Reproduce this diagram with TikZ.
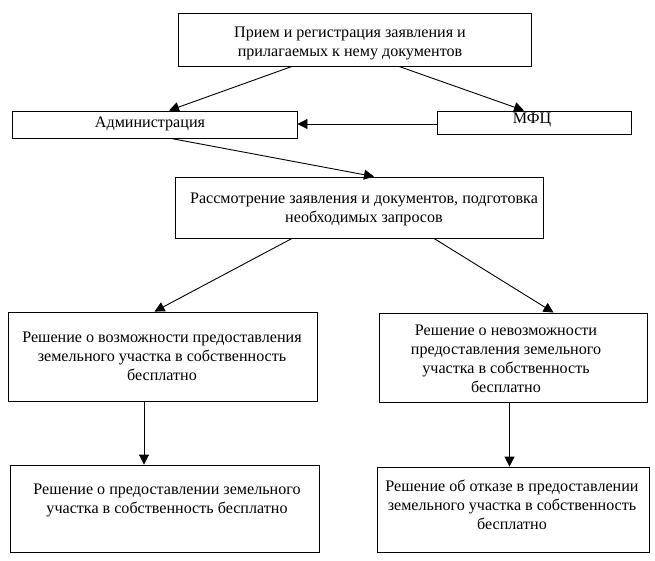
\documentclass[tikz,border=0pt]{standalone}
\usepackage{fontspec}
\setmainfont{Liberation Serif}
\usetikzlibrary{arrows.meta,calc}
\begin{document}
\begin{tikzpicture}[x=1pt,y=-1pt,
  box/.style={draw,line width=0.9pt,inner sep=0pt,anchor=center},
  txt/.style={inner sep=0pt,align=center,font=\fontsize{16.1pt}{19pt}\selectfont},
  arr/.style={line width=0.9pt,-{Triangle[length=10pt,width=10pt]}}]
\useasboundingbox[fill=white] (0,0) rectangle (655,561);
% boxes
\node[box,minimum width=353pt,minimum height=53pt] (b1) at (354.5,39.5) {};
\node[box,minimum width=285pt,minimum height=27pt] (b2) at (154.5,124.5) {};
\node[box,minimum width=194pt,minimum height=23pt] (b3) at (534,122.5) {};
\node[box,minimum width=368pt,minimum height=61pt] (b4) at (359,207.5) {};
\node[box,minimum width=309pt,minimum height=89pt] (b5) at (162.5,356.5) {};
\node[box,minimum width=268pt,minimum height=89pt] (b6) at (513,357.5) {};
\node[box,minimum width=309pt,minimum height=87pt] (b7) at (164.5,508.5) {};
\node[box,minimum width=272pt,minimum height=85pt] (b8) at (513,509.5) {};
% texts
\node[txt] (t1) at (350,43) {Прием и регистрация заявления и\\прилагаемых к нему документов};
\node[txt] (t2) at (150,124) {Администрация};
\node[txt] (t3) at (532,120) {МФЦ};
\node[txt] (t4) at (364,209.5) {Рассмотрение заявления и документов, подготовка\\необходимых запросов};
\node[txt] (t5) at (162,356) {Решение о возможности предоставления\\земельного участка в собственность\\бесплатно};
\node[txt] (t6) at (506,358.5) {Решение о невозможности\\предоставления земельного\\участка в собственность\\бесплатно};
\node[txt] (t7) at (167,500.5) {Решение о предоставлении земельного\\участка в собственность бесплатно};
\node[txt] (t8) at (512,504.5) {Решение об отказе в предоставлении\\земельного участка в собственность\\бесплатно};
% connectors
\draw[arr] ([xshift=-62.5pt]b1.south) -- ([xshift=14.5pt]b2.north);
\draw[arr] ([xshift=44.5pt]b1.south) -- ([xshift=-10pt]b3.north);
\draw[arr] ([yshift=-1.5pt]b3.west) -- ([yshift=-1.5pt]b3.west -| b2.east);
\draw[arr] ([xshift=16.5pt]b2.south) -- ([xshift=15pt]b4.north);
\draw[arr] ([xshift=-67pt]b4.south) -- ([xshift=-8pt]b5.north);
\draw[arr] ([xshift=75pt]b4.south) -- ([xshift=40.5pt]b6.north);
\draw[arr] ([xshift=-18.5pt]b5.south) -- ([xshift=-18.5pt]b5.south |- b7.north);
\draw[arr] ([xshift=-3.5pt]b6.south) -- ([xshift=-3.5pt]b6.south |- b8.north);
\end{tikzpicture}
\end{document}
